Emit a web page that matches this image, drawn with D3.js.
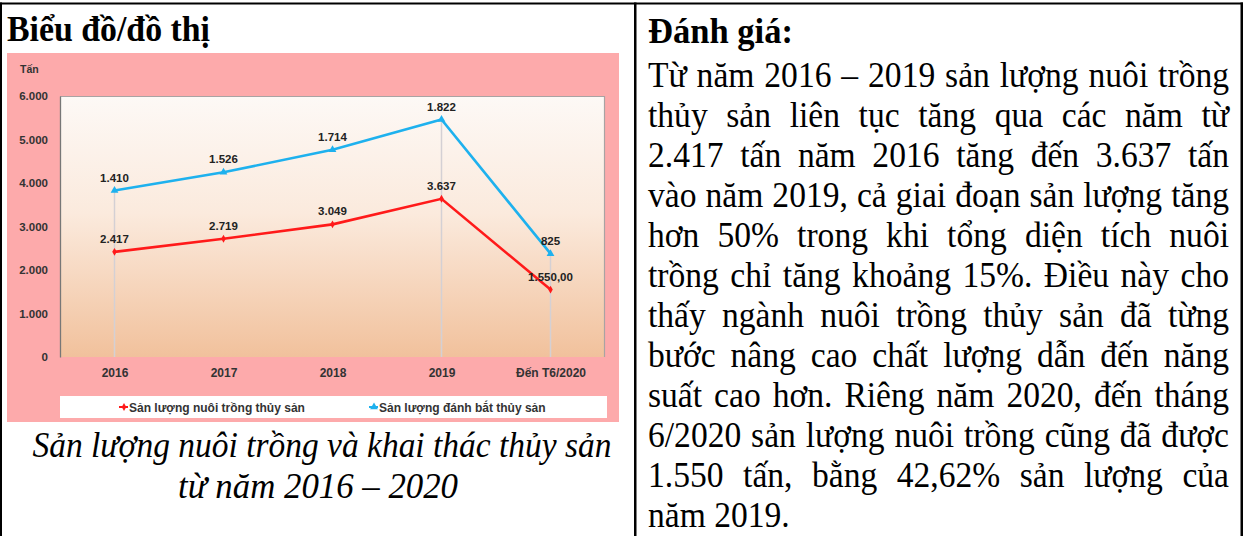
<!DOCTYPE html>
<html><head><meta charset="utf-8">
<script src="https://cdn.jsdelivr.net/npm/d3@7"></script>
<style>html,body{margin:0;padding:0;background:#fff;overflow:hidden}</style>
</head><body><svg id="c" width="1248" height="536"></svg>
<script>
// ---------- DATA ----------
const categories = ["2016", "2017", "2018", "2019", "Đến T6/2020"];
const nuoiTrong = [2417, 2719, 3049, 3637, 1550];
const danhBat = [1410, 1526, 1714, 1822, 825];
const nuoiTrongLabels = ["2.417", "2.719", "3.049", "3.637", "1.550,00"];
const danhBatLabels = ["1.410", "1.526", "1.714", "1.822", "825"];
const yTicks = [0, 1000, 2000, 3000, 4000, 5000, 6000];
const dropLineCats = ["2016", "2019", "Đến T6/2020"];
const seriesNames = ["Sản lượng nuôi trồng thủy sản", "Sản lượng đánh bắt thủy sản"];
const unitLabel = "Tấn";
const leftHeader = "Biểu đồ/đồ thị";
const rightHeader = "Đánh giá:";
const captionLines = ["Sản lượng nuôi trồng và khai thác thủy sản", "từ năm 2016 – 2020"];
const bodyLines = [
  "Từ năm 2016 – 2019 sản lượng nuôi trồng",
  "thủy sản liên tục tăng qua các năm từ",
  "2.417 tấn năm 2016 tăng đến 3.637 tấn",
  "vào năm 2019, cả giai đoạn sản lượng tăng",
  "hơn 50% trong khi tổng diện tích nuôi",
  "trồng chỉ tăng khoảng 15%. Điều này cho",
  "thấy ngành nuôi trồng thủy sản đã từng",
  "bước nâng cao chất lượng dẫn đến năng",
  "suất cao hơn. Riêng năm 2020, đến tháng",
  "6/2020 sản lượng nuôi trồng cũng đã được",
  "1.550 tấn, bằng 42,62% sản lượng của",
  "năm 2019."
];

// ---------- LAYOUT ----------
const svg = d3.select("#c");
const serif = "'Liberation Serif','Times New Roman',serif";
const sans = "'Liberation Sans',Arial,sans-serif";

svg.append("rect").attr("width", 1248).attr("height", 536).attr("fill", "#fff");

// table borders
svg.append("rect").attr("x", 0).attr("y", 2.5).attr("width", 1243).attr("height", 2).attr("fill", "#000");
svg.append("rect").attr("x", 0).attr("y", 2.5).attr("width", 2).attr("height", 534).attr("fill", "#000");
svg.append("rect").attr("x", 634).attr("y", 2.5).attr("width", 2.5).attr("height", 534).attr("fill", "#000");
svg.append("rect").attr("x", 1240.5).attr("y", 2.5).attr("width", 2.5).attr("height", 534).attr("fill", "#000");

function fitText(sel, width) {
  sel.attr("textLength", width).attr("lengthAdjust", "spacingAndGlyphs");
}

// headers
fitText(svg.append("text").attr("x", 7).attr("y", 41).attr("font-family", serif)
  .attr("font-weight", "bold").attr("font-size", 36).text(leftHeader), 203);
fitText(svg.append("text").attr("x", 648).attr("y", 43).attr("font-family", serif)
  .attr("font-weight", "bold").attr("font-size", 36).text(rightHeader), 145);

// caption
const capCenters = [322, 318], capWidths = [579, 280], capY = [457, 498];
captionLines.forEach((t, i) => {
  fitText(svg.append("text").attr("x", capCenters[i]).attr("y", capY[i])
    .attr("text-anchor", "middle").attr("font-family", serif).attr("font-style", "italic")
    .attr("font-size", 36).text(t), capWidths[i]);
});

// body text (justified)
const bodyX = 648, bodyW = 581, sx = 0.92, bodyY0 = 86.5, bodyLH = 40.05;
bodyLines.forEach((t, i) => {
  const el = svg.append("text")
    .attr("transform", `translate(${bodyX},${bodyY0 + i * bodyLH}) scale(${sx},1)`)
    .attr("font-family", serif).attr("font-size", 36.5).attr("fill", "#000")
    .style("white-space", "pre").text(t);
  if (i < bodyLines.length - 1) {
    const L = el.node().getComputedTextLength();
    const gaps = (t.match(/ /g) || []).length;
    const ws = (bodyW / sx - L) / gaps;
    el.style("word-spacing", ws + "px");
  }
});

// ---------- CHART ----------
const chart = svg.append("g");
chart.append("rect").attr("x", 7).attr("y", 53).attr("width", 612).attr("height", 369).attr("fill", "#fdaaab");

const plot = {left: 60, right: 605, top: 96, bottom: 357};
const defs = svg.append("defs");
const grad = defs.append("linearGradient").attr("id", "pg").attr("x1", 0).attr("y1", 0).attr("x2", 0).attr("y2", 1);
grad.append("stop").attr("offset", "0%").attr("stop-color", "#fdf9f6");
grad.append("stop").attr("offset", "45%").attr("stop-color", "#fbeadd");
grad.append("stop").attr("offset", "100%").attr("stop-color", "#f1c19c");

chart.append("rect").attr("x", plot.left).attr("y", plot.top)
  .attr("width", plot.right - plot.left).attr("height", plot.bottom - plot.top).attr("fill", "url(#pg)");
chart.append("line").attr("x1", plot.left).attr("x2", plot.right).attr("y1", plot.top + 0.5).attr("y2", plot.top + 0.5)
  .attr("stroke", "#a9a3a3").attr("stroke-width", 1.2);
chart.append("line").attr("x1", plot.right - 0.5).attr("x2", plot.right - 0.5).attr("y1", plot.top).attr("y2", plot.bottom)
  .attr("stroke", "#a9a3a3").attr("stroke-width", 1.2);

const x = d3.scalePoint().domain(categories).range([plot.left, plot.right]).padding(0.5);
const y = d3.scaleLinear().domain([0, 6000]).range([plot.bottom, plot.top]);
const vn = d3.formatLocale({decimal: ",", thousands: ".", grouping: [3], currency: ["", ""]});
const fmt = vn.format(",d");

const stacked = categories.map((c, i) => ({c, red: nuoiTrong[i], blue: nuoiTrong[i] + danhBat[i], i}));

// drop lines
chart.append("g").selectAll("line").data(stacked.filter(d => dropLineCats.includes(d.c))).join("line")
  .attr("x1", d => x(d.c)).attr("x2", d => x(d.c))
  .attr("y1", d => y(d.blue)).attr("y2", plot.bottom)
  .attr("stroke", "#d4d0d4").attr("stroke-width", 1.5);

// y axis
const yAxis = chart.append("g").attr("transform", `translate(${plot.left},0)`)
  .call(d3.axisLeft(y).tickValues(yTicks).tickFormat(fmt).tickSize(0).tickPadding(12).tickSizeOuter(0));
yAxis.select(".domain").attr("stroke", "#777").attr("stroke-width", 1.3);
yAxis.selectAll("text").attr("font-family", sans).attr("font-weight", "bold").attr("font-size", 11.5).attr("fill", "#333");

// x axis
const xAxis = chart.append("g").attr("transform", `translate(0,${plot.bottom})`)
  .call(d3.axisBottom(x).tickSize(0).tickPadding(11));
xAxis.select(".domain").remove();
xAxis.selectAll("text").attr("font-family", sans).attr("font-weight", "bold").attr("font-size", 12).attr("fill", "#333");

// unit label
chart.append("text").attr("x", 20).attr("y", 73).attr("font-family", sans).attr("font-weight", "bold")
  .attr("font-size", 10.5).attr("fill", "#333").text(unitLabel);

const redC = "#ff1a1a", blueC = "#1eb1ee";
const lineRed = d3.line().x(d => x(d.c)).y(d => y(d.red));
const lineBlue = d3.line().x(d => x(d.c)).y(d => y(d.blue));
chart.append("path").datum(stacked).attr("d", lineBlue).attr("fill", "none").attr("stroke", blueC).attr("stroke-width", 2.6);
chart.append("path").datum(stacked).attr("d", lineRed).attr("fill", "none").attr("stroke", redC).attr("stroke-width", 2.6);

const tri = d3.symbol(d3.symbolTriangle, 26)();
const dia = d3.symbol(d3.symbolDiamond, 18)();
chart.append("g").selectAll("path").data(stacked).join("path")
  .attr("d", tri).attr("transform", d => `translate(${x(d.c)},${y(d.blue)})`).attr("fill", blueC);
chart.append("g").selectAll("path").data(stacked).join("path")
  .attr("d", dia).attr("transform", d => `translate(${x(d.c)},${y(d.red)})`).attr("fill", redC);

// data labels
chart.append("g").selectAll("text").data(stacked).join("text")
  .attr("x", d => x(d.c)).attr("y", d => y(d.blue) - 9).attr("text-anchor", "middle")
  .attr("font-family", sans).attr("font-weight", "bold").attr("font-size", 11.5).attr("fill", "#222")
  .text(d => danhBatLabels[d.i]);
chart.append("g").selectAll("text").data(stacked).join("text")
  .attr("x", d => x(d.c)).attr("y", d => y(d.red) - 9).attr("text-anchor", "middle")
  .attr("font-family", sans).attr("font-weight", "bold").attr("font-size", 11.5).attr("fill", "#222")
  .text(d => nuoiTrongLabels[d.i]);

// legend
chart.append("rect").attr("x", 60).attr("y", 396).attr("width", 547).attr("height", 22).attr("fill", "#fff");
const legendItems = [{name: seriesNames[0], color: redC, sym: dia, x: 119}, {name: seriesNames[1], color: blueC, sym: tri, x: 369}];
const lg = chart.append("g").selectAll("g").data(legendItems).join("g").attr("transform", d => `translate(${d.x},407)`);
lg.append("line").attr("x1", 0).attr("x2", 9).attr("stroke", d => d.color).attr("stroke-width", 2);
lg.append("path").attr("d", d => d.sym).attr("transform", "translate(5,0)").attr("fill", d => d.color);
lg.append("text").attr("x", 10).attr("y", 4.5).attr("font-family", sans).attr("font-weight", "bold")
  .attr("font-size", 12).attr("fill", "#333").text(d => d.name);
</script></body></html>
